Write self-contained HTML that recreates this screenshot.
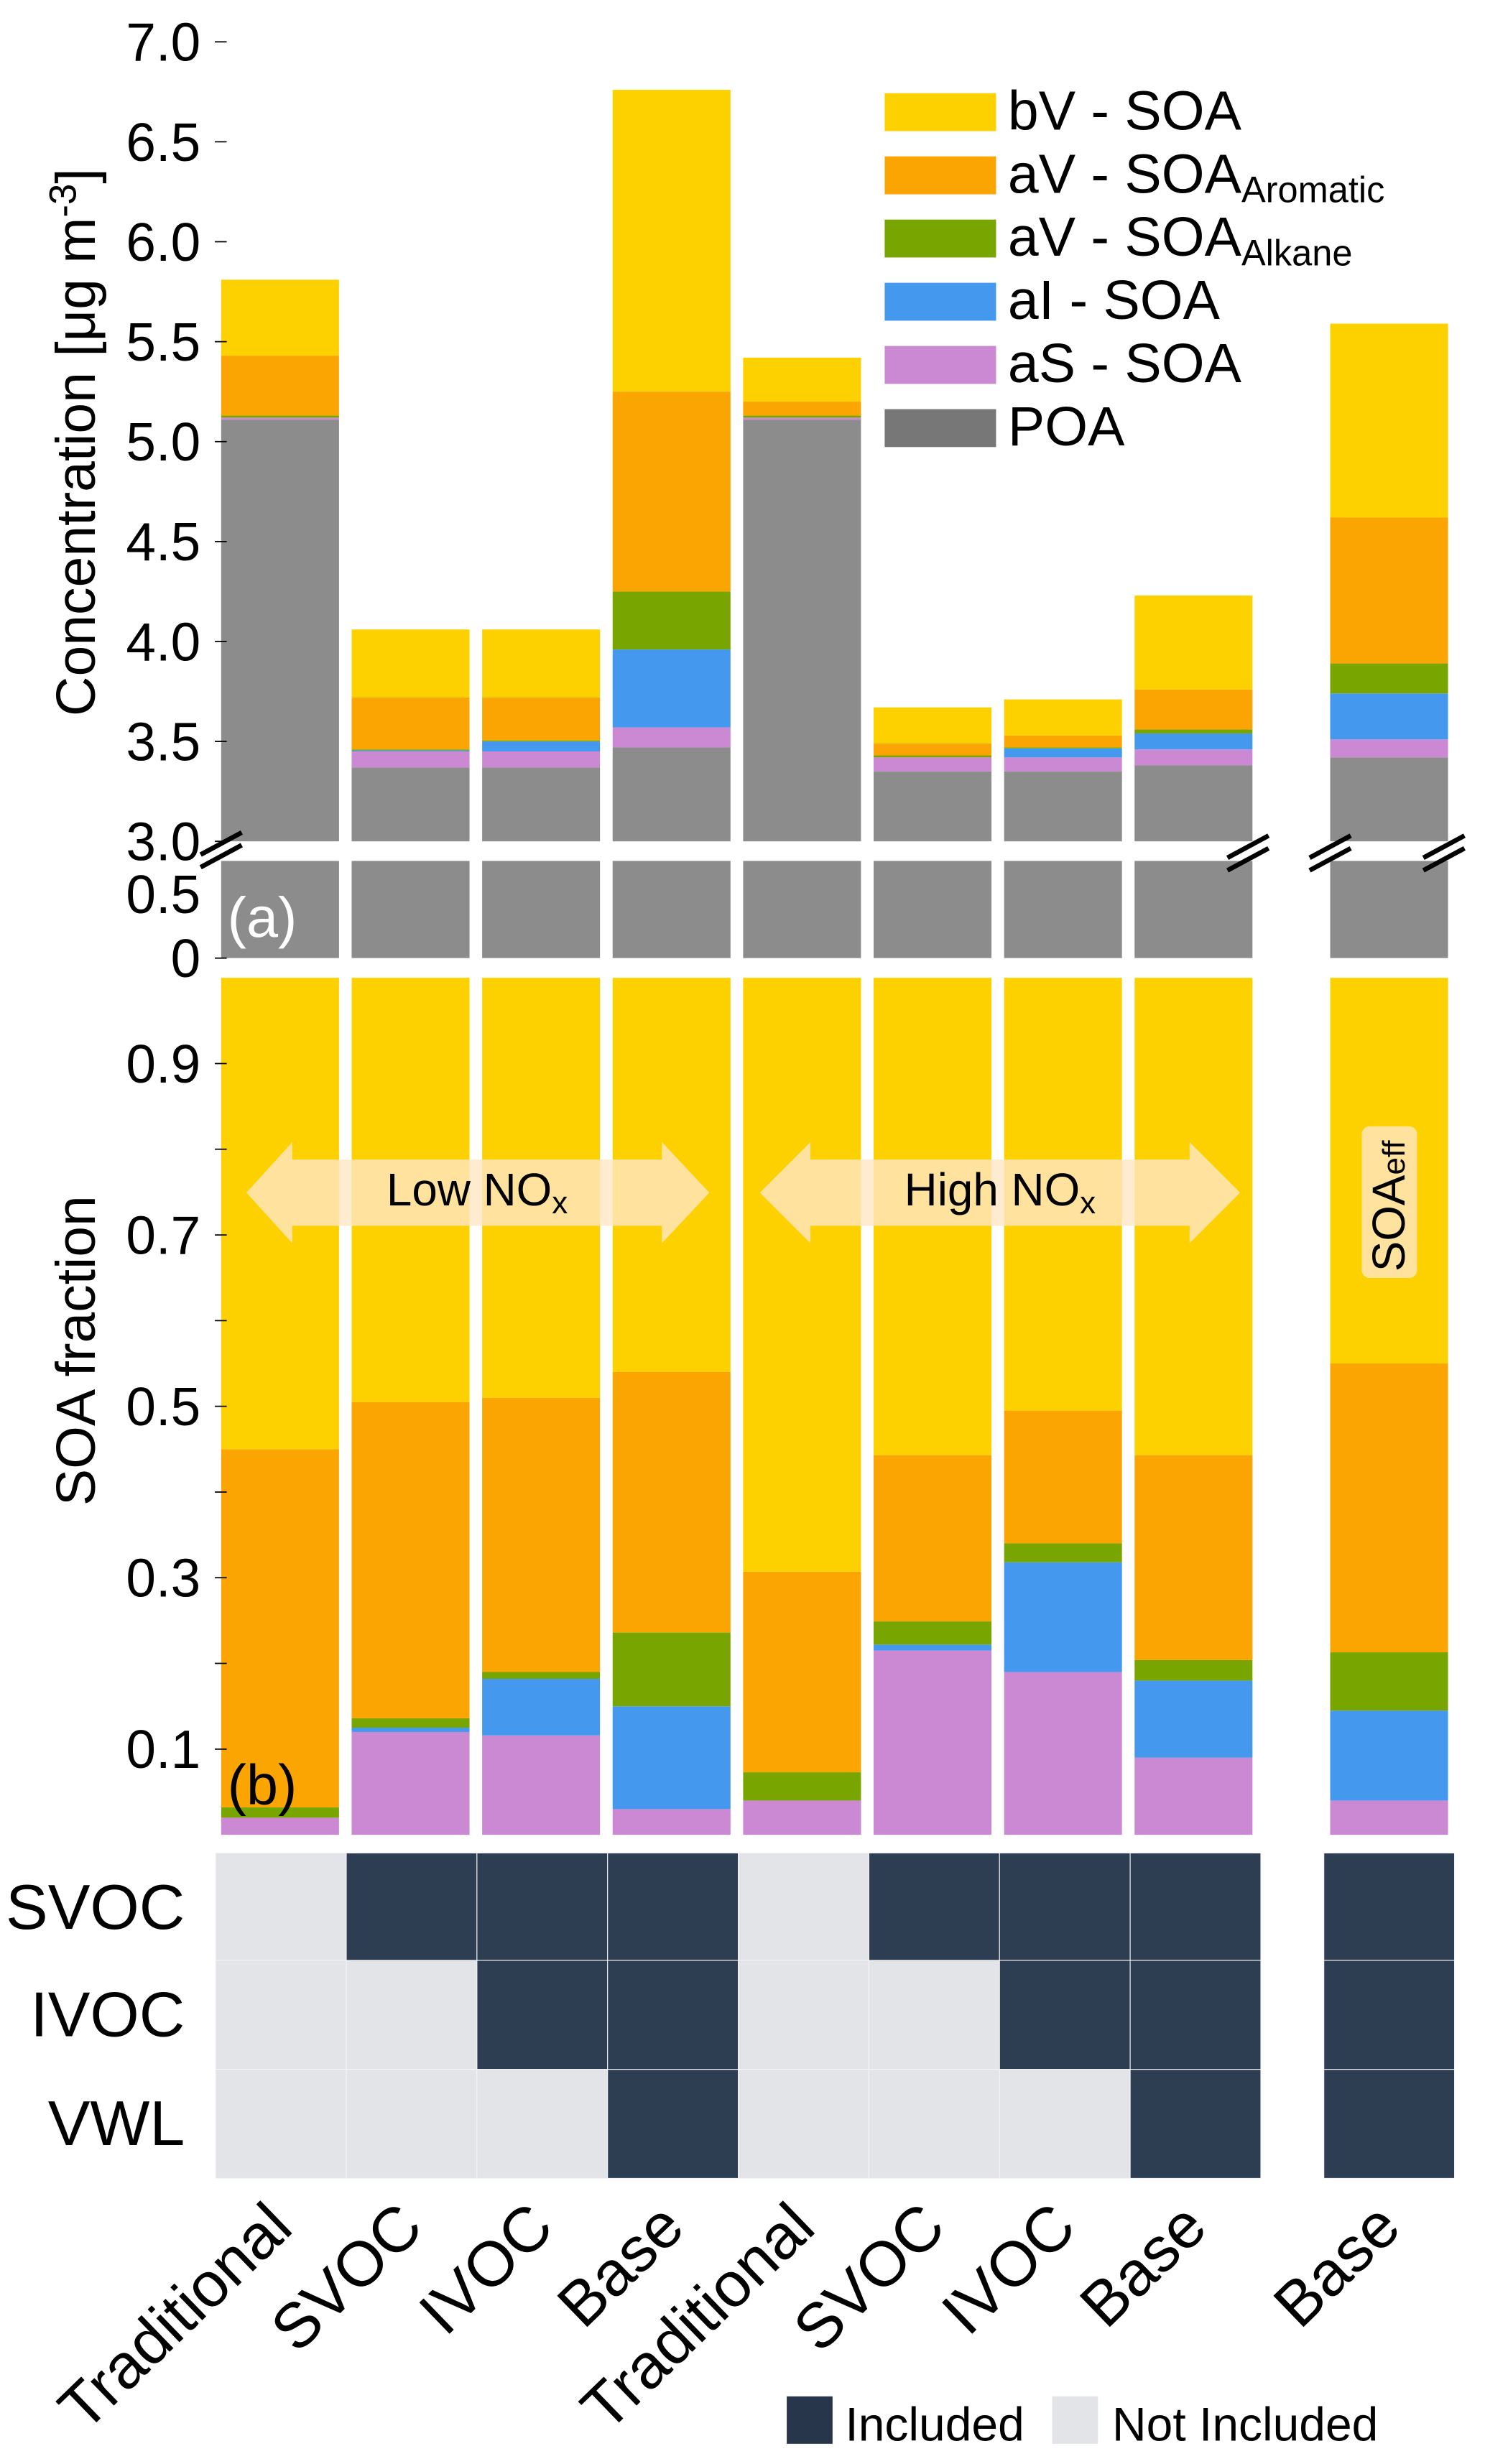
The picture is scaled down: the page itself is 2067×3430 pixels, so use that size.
<!DOCTYPE html>
<html><head><meta charset="utf-8"><style>
html,body{margin:0;padding:0;background:#fff;}
svg{display:block;font-family:"Liberation Sans",sans-serif;}
</style></head><body>
<svg id="chart" xmlns="http://www.w3.org/2000/svg" width="2067" height="3430" viewBox="0 0 940 1559.8" preserveAspectRatio="none">
<g id="g-top"></g>
<g id="g-bot"></g>
<g id="g-heat"></g>
<g id="g-ann"></g>
</svg>
<script>
const categories = ["Traditional","SVOC","IVOC","Base","Traditional","SVOC","IVOC","Base","Base"];
const seriesNames = ["POA","aS - SOA","aI - SOA","aV - SOAAlkane","aV - SOAAromatic","bV - SOA"];
// concentration components (µg m-3)
const poaConc = [5.11,3.37,3.37,3.47,5.11,3.35,3.35,3.38,3.42];
const asConc  = [0.01,0.08,0.08,0.10,0.01,0.07,0.07,0.08,0.09];
const aiConc  = [0.00,0.005,0.05,0.39,0.00,0.00,0.045,0.08,0.23];
const alkConc = [0.01,0.005,0.005,0.29,0.01,0.01,0.005,0.02,0.15];
const aroConc = [0.30,0.26,0.215,1.00,0.07,0.06,0.06,0.20,0.73];
const bvConc  = [0.38,0.34,0.34,1.51,0.22,0.18,0.18,0.47,0.97];
// SOA fraction components
const asFrac  = [0.02,0.12,0.116,0.03,0.04,0.215,0.19,0.09,0.04];
const aiFrac  = [0.00,0.005,0.066,0.12,0.00,0.007,0.128,0.09,0.105];
const alkFrac = [0.012,0.011,0.008,0.086,0.033,0.027,0.022,0.024,0.068];
const aroFrac = [0.418,0.369,0.32,0.304,0.234,0.194,0.155,0.239,0.337];
const rows = ["SVOC","IVOC","VWL"];
const svocInc = [0,1,1,1,0,1,1,1,1];
const ivocInc = [0,0,1,1,0,0,1,1,1];
const vwlInc  = [0,0,0,1,0,0,0,1,1];
const topTicks = ["7.0","6.5","6.0","5.5","5.0","4.5","4.0","3.5","3.0"];
const topTickVals = [7.0,6.5,6.0,5.5,5.0,4.5,4.0,3.5,3.0];
const botTickVals = [0.1,0.2,0.3,0.4,0.5,0.6,0.7,0.8,0.9];
const botTickLabels = ["0.1","","0.3","","0.5","","0.7","","0.9"];

const C = {bv:"#FDD100",aro:"#FBA502",alk:"#79A501",ai:"#4499EF",as:"#CB88D3",poa:"#8C8C8C",dark:"#2D3E53",light:"#E3E4E7"};
const NS="http://www.w3.org/2000/svg";
function mk(tag, attrs, parent){const e=document.createElementNS(NS,tag);for(const k in attrs)e.setAttribute(k,attrs[k]);parent.appendChild(e);return e;}
const gTop=document.getElementById('g-top'),gBot=document.getElementById('g-bot'),gHeat=document.getElementById('g-heat'),gAnn=document.getElementById('g-ann');

function barX(i){return i<8?140+i*82.6:842;}
const BW=74.6;
function colX(i){return i<8?136.5+i*82.7:838;}
const CW=82.7;
function yTop(v){return 26.5+(7.0-v)*(532.6-26.5)/4.0;}
function yFrac(v){return 1161.5-v*(1161.5-619)/1.0;}
const breakTop=545, breakBot=606.5;

const concSeries=[[poaConc,C.poa],[asConc,C.as],[aiConc,C.ai],[alkConc,C.alk],[aroConc,C.aro],[bvConc,C.bv]];
const segNames=["poa","as-soa","ai-soa","alkane","aromatic","bv-soa"];
for(let i=0;i<categories.length;i++){
  let cum=3.0;
  concSeries.forEach((s,k)=>{
    const v0 = k===0?3.0:cum;
    const v1 = k===0?s[0][i]:cum+s[0][i];
    cum=v1;
    if(v1-v0<=0)return;
    const r=mk('rect',{x:barX(i),y:yTop(v1),width:BW,height:yTop(v0)-yTop(v1),fill:s[1]},gTop);
    
    
  });
  const rb=mk('rect',{x:barX(i),y:breakTop,width:BW,height:breakBot-breakTop,fill:C.poa},gTop);
  
  
}
topTickVals.forEach((v,j)=>{
  const y=yTop(v);
  const t=mk('line',{x1:136,x2:143.5,y1:y,y2:y,stroke:"#000","stroke-width":0.8},gTop);
  
  
  const tx=mk('text',{x:127,y:y+12,"text-anchor":"end","font-size":34},gTop);
  tx.textContent=topTicks[j];
  
  
});
[["0.5",566],["0",606.5]].forEach(d=>{
  const tx=mk('text',{x:127,y:d[1]+12,"text-anchor":"end","font-size":34},gTop);
  tx.textContent=d[0];
  
  
});
mk('line',{x1:136,x2:143.5,y1:606.5,y2:606.5,stroke:"#000","stroke-width":0.8},gTop);

const fracSeries=[[asFrac,C.as],[aiFrac,C.ai],[alkFrac,C.alk],[aroFrac,C.aro]];
const fracNames=["as-soa","ai-soa","alkane","aromatic"];
for(let i=0;i<categories.length;i++){
  let cum=0;
  fracSeries.forEach((s,k)=>{
    const v0=cum, v1=cum+s[0][i]; cum=v1;
    if(v1-v0<=0)return;
    const r=mk('rect',{x:barX(i),y:yFrac(v1),width:BW,height:yFrac(v0)-yFrac(v1),fill:s[1]},gBot);
    
    
  });
  const r=mk('rect',{x:barX(i),y:yFrac(1),width:BW,height:yFrac(cum)-yFrac(1),fill:C.bv},gBot);
  
  
}
botTickVals.forEach((v,j)=>{
  const y=yFrac(v);
  const t=mk('line',{x1:136,x2:143.5,y1:y,y2:y,stroke:"#000","stroke-width":0.8},gBot);
  
  
  if(botTickLabels[j]){
    const tx=mk('text',{x:127,y:y+12,"text-anchor":"end","font-size":34},gBot);
    tx.textContent=botTickLabels[j];
    
    
  }
});

const incRows=[svocInc,ivocInc,vwlInc];
const rowTop=[1173,1241,1310], rowH=[68,69,69];
incRows.forEach((row,r)=>{
  row.forEach((v,i)=>{
    const c=mk('rect',{x:colX(i),y:rowTop[r],width:CW,height:rowH[r],fill:v?C.dark:C.light,stroke:"#f4f4f6","stroke-width":0.5},gHeat);
    
    
  });
  const tx=mk('text',{x:117,y:rowTop[r]+48,"text-anchor":"end","font-size":40},gHeat);
  tx.textContent=rows[r];
  
  
});
categories.forEach((c,i)=>{
  const cx=colX(i)+CW/2+9, cy=1412;
  const tx=mk('text',{x:cx,y:cy,"text-anchor":"end","font-size":40,transform:`rotate(-44 ${cx} ${cy})`},gHeat);
  tx.textContent=c;
  
  
});
</script>
<svg style="position:absolute;left:0;top:0" width="2067" height="3430" viewBox="0 0 940 1559.8" preserveAspectRatio="none" font-family="Liberation Sans, sans-serif">
  <g font-size="35">
    <rect x="560" y="59" width="70.5" height="24" fill="#FDD100"/>
    <text x="638" y="82">bV - SOA</text>
    <rect x="560" y="99" width="70.5" height="24" fill="#FBA502"/>
    <text x="638" y="122">aV - SOA<tspan font-size="23" dy="6">Aromatic</tspan></text>
    <rect x="560" y="139" width="70.5" height="24" fill="#79A501"/>
    <text x="638" y="162">aV - SOA<tspan font-size="23" dy="6">Alkane</tspan></text>
    <rect x="560" y="179" width="70.5" height="24" fill="#4499EF"/>
    <text x="638" y="202">aI - SOA</text>
    <rect x="560" y="219" width="70.5" height="24" fill="#CB88D3"/>
    <text x="638" y="242">aS - SOA</text>
    <rect x="560" y="259" width="70.5" height="24" fill="#777777"/>
    <text x="638" y="282">POA</text>
  </g>
  <text transform="translate(60,280) rotate(-90)" text-anchor="middle" font-size="35">Concentration [μg m<tspan dy="-12" font-size="24">-3</tspan><tspan dy="12">]</tspan></text>
  <text transform="translate(60,855) rotate(-90)" text-anchor="middle" font-size="35">SOA fraction</text>
  <text x="144" y="593" font-size="36" fill="#fff">(a)</text>
  <text x="144" y="1142" font-size="36">(b)</text>
  <g stroke="#000" stroke-width="3">
    <line x1="127" y1="541" x2="153" y2="527"/><line x1="127" y1="549" x2="153" y2="535"/>
    <line x1="777" y1="543" x2="803" y2="529"/><line x1="777" y1="551" x2="803" y2="537"/>
    <line x1="829" y1="543" x2="855" y2="529"/><line x1="829" y1="551" x2="855" y2="537"/>
    <line x1="901" y1="543" x2="927" y2="529"/><line x1="901" y1="551" x2="927" y2="537"/>
  </g>
  <polygon points="156,755 185,723 185,734 419,734 419,723 449,755 419,787 419,776 185,776 185,787" fill="rgba(255,230,196,0.8)"/>
  <text x="302" y="763" text-anchor="middle" font-size="29">Low NO<tspan font-size="20" dy="5">x</tspan></text>
  <polygon points="481,755 513,723 513,734 753,734 753,723 785,755 753,787 753,776 513,776 513,787" fill="rgba(255,230,196,0.8)"/>
  <text x="633" y="763" text-anchor="middle" font-size="29">High NO<tspan font-size="20" dy="5">x</tspan></text>
  <rect x="862" y="713" width="35" height="96" rx="5" fill="rgba(255,230,196,0.8)"/>
  <text transform="translate(889,805) rotate(-90)" font-size="29">SOA<tspan font-size="20">eff</tspan></text>
  <rect x="498" y="1517" width="29" height="30" fill="#27364A"/>
  <text x="535" y="1545" font-size="30">Included</text>
  <rect x="666" y="1517" width="29" height="30" fill="#E3E4E7"/>
  <text x="704" y="1545" font-size="30">Not Included</text>
</svg>
</body></html>
